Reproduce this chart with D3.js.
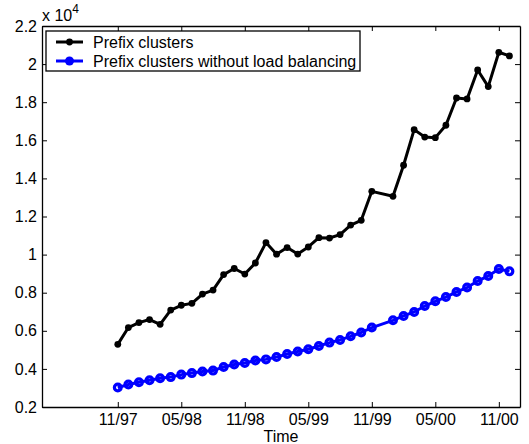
<!DOCTYPE html>
<html>
<head>
<meta charset="utf-8">
<script src="https://cdn.jsdelivr.net/npm/d3@7"></script>
<style>
  body { margin: 0; background: #fff; }
  text { font-family: "Liberation Sans", Arial, Helvetica, sans-serif; }
</style>
</head>
<body>
<div id="chart"></div>
<script>
// months counted from 11/97 (month 25 has no sample)
const months = [0, 1, 2, 3, 4, 5, 6, 7, 8, 9, 10, 11, 12, 13, 14, 15, 16, 17, 18,
  19, 20, 21, 22, 23, 24, 26, 27, 28, 29, 30, 31, 32, 33, 34, 35, 36, 37];

// values in units of 10^4
const prefixClusters = [0.529, 0.617, 0.643, 0.659, 0.634, 0.709, 0.734, 0.744, 0.793, 0.814,
  0.895, 0.927, 0.898, 0.956, 1.063, 1.002, 1.037, 1.003, 1.040, 1.089, 1.087, 1.105,
  1.155, 1.180, 1.332, 1.306, 1.469, 1.656, 1.617, 1.614, 1.679, 1.822, 1.817, 1.969,
  1.882, 2.062, 2.043];

const withoutLB = [0.302, 0.318, 0.330, 0.340, 0.351, 0.357, 0.370, 0.378, 0.386, 0.391,
  0.410, 0.423, 0.431, 0.444, 0.450, 0.462, 0.478, 0.491, 0.503, 0.520, 0.538, 0.552,
  0.571, 0.591, 0.617, 0.655, 0.678, 0.699, 0.730, 0.755, 0.777, 0.804, 0.827, 0.861,
  0.888, 0.924, 0.912];

const tickMonths = [0, 6, 12, 18, 24, 30, 36];
const tickLabels = ["11/97", "05/98", "11/98", "05/99", "11/99", "05/00", "11/00"];
const yTicks = [0.2, 0.4, 0.6, 0.8, 1, 1.2, 1.4, 1.6, 1.8, 2, 2.2];

const W = 529, H = 444;
const margin = { top: 26, right: 9, bottom: 37, left: 42 };
const width = W - margin.left - margin.right,
    height = H - margin.top - margin.bottom;

const svg = d3.select("#chart")
    .append("svg")
    .attr("width", W)
    .attr("height", H)
    .append("g")
    .attr("transform", `translate(${margin.left},${margin.top})`);

const x = d3.scaleLinear().domain([-7.16, 38.0]).range([0, width]);
const y = d3.scaleLinear().domain([0.2, 2.2]).range([height, 0]);

// axes, ticks pointing inward, box on all sides
const fmtY = d => d3.format("")(+d.toFixed(1));
svg.append("g")
    .attr("transform", `translate(0,${height})`)
    .call(d3.axisBottom(x).tickValues(tickMonths).tickFormat((d, i) => tickLabels[i])
        .tickSizeInner(-5).tickSizeOuter(0).tickPadding(7));
svg.append("g")
    .call(d3.axisTop(x).tickValues(tickMonths).tickFormat("")
        .tickSizeInner(-5).tickSizeOuter(0));
svg.append("g")
    .call(d3.axisLeft(y).tickValues(yTicks).tickFormat(fmtY)
        .tickSizeInner(-5).tickSizeOuter(0).tickPadding(5));
svg.append("g")
    .attr("transform", `translate(${width},0)`)
    .call(d3.axisRight(y).tickValues(yTicks).tickFormat("")
        .tickSizeInner(-5).tickSizeOuter(0));

svg.selectAll(".domain").attr("stroke", "#000").attr("stroke-width", 1.3);
svg.selectAll(".tick line").attr("stroke", "#000");
svg.selectAll(".tick text").attr("font-size", 16).attr("fill", "#000")
    .style("font-family", "'Liberation Sans', Arial, sans-serif");

// x 10^4 multiplier
const mult = svg.append("text")
    .attr("x", 0)
    .attr("y", -5)
    .attr("font-size", 16)
    .text("x 10");
mult.append("tspan").attr("dy", -8).attr("font-size", 12).text("4");

// axis label
svg.append("text")
    .attr("x", width / 2)
    .attr("y", height + 34.5)
    .attr("text-anchor", "middle")
    .attr("font-size", 16)
    .text("Time");

const line = d3.line().x((d, i) => x(months[i])).y(d => y(d));

// black series
svg.append("path")
    .datum(prefixClusters)
    .attr("fill", "none")
    .attr("stroke", "#000")
    .attr("stroke-width", 3)
    .attr("stroke-linejoin", "round")
    .attr("d", line);
svg.selectAll(".dotK")
    .data(prefixClusters)
    .join("circle")
    .attr("cx", (d, i) => x(months[i]))
    .attr("cy", d => y(d))
    .attr("r", 3.4)
    .attr("fill", "#000");

// blue series (open markers, line shows through)
svg.append("path")
    .datum(withoutLB)
    .attr("fill", "none")
    .attr("stroke", "#0000ff")
    .attr("stroke-width", 3)
    .attr("stroke-linejoin", "round")
    .attr("d", line);
svg.selectAll(".dotB")
    .data(withoutLB)
    .join("circle")
    .attr("cx", (d, i) => x(months[i]))
    .attr("cy", d => y(d))
    .attr("r", 3.4)
    .attr("fill", "none")
    .attr("stroke", "#0000ff")
    .attr("stroke-width", 3.2);

// legend
const lg = svg.append("g").attr("transform", "translate(4,5)");
lg.append("rect")
    .attr("width", 314).attr("height", 40)
    .attr("fill", "#fff").attr("stroke", "#000").attr("stroke-width", 1.3);
const entries = [
    { name: "Prefix clusters", color: "#000", open: false },
    { name: "Prefix clusters without load balancing", color: "#0000ff", open: true }
];
entries.forEach((e, i) => {
    const yy = 11 + i * 19;
    lg.append("line").attr("x1", 10).attr("x2", 37).attr("y1", yy).attr("y2", yy)
        .attr("stroke", e.color).attr("stroke-width", 3);
    lg.append("circle").attr("cx", 23.5).attr("cy", yy)
        .attr("r", e.open ? 4.5 : 3.4)
        .attr("fill", e.color);
    lg.append("text").attr("x", 47).attr("y", yy + 5.5)
        .attr("font-size", 16).text(e.name);
});
</script>
</body>
</html>
